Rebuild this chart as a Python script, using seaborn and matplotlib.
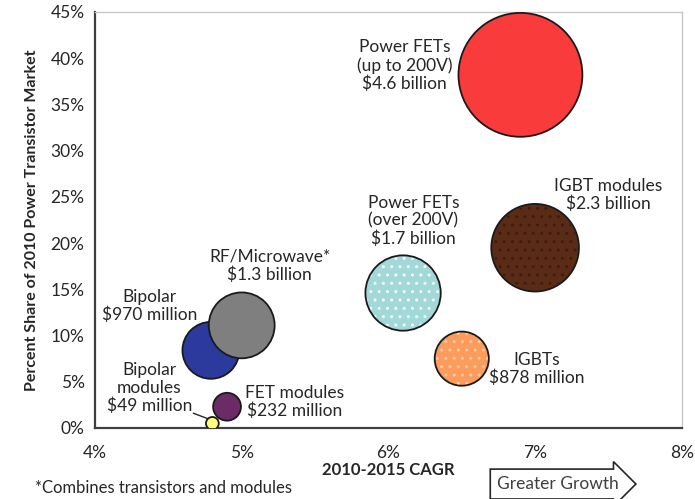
import matplotlib
matplotlib.use("Agg")
import pandas as pd
import seaborn as sns
from matplotlib import pyplot as plt
from matplotlib.ticker import PercentFormatter, MultipleLocator

names = ["Power FETs (up to 200V)", "IGBT modules", "Power FETs (over 200V)", "Bipolar",
         "RF/Microwave", "IGBTs", "FET modules", "Bipolar modules"]
cagr = [6.9, 7.0, 6.1, 4.79, 5.0, 6.5, 4.9, 4.8]
share = [38.2, 19.5, 14.6, 8.4, 11.1, 7.5, 2.3, 0.5]
revenue = [4600, 2300, 1700, 970, 1300, 878, 232, 49]
colors = ["#f93b3b", "#5a2c18", "#a3d8d8", "#2b3a9c", "#7f7f7f", "#fb9c5c", "#6a2b66", "#ffff80"]
labels = ["Power FETs\n(up to 200V)\n$4.6 billion", "IGBT modules\n$2.3 billion",
          "Power FETs\n(over 200V)\n$1.7 billion", "Bipolar\n$970 million",
          "RF/Microwave*\n$1.3 billion", "IGBTs\n$878 million", "FET modules\n$232 million",
          "Bipolar\nmodules\n$49 million"]
label_x = [6.11, 7.50, 6.17, 4.37, 5.19, 7.01, 5.36, 4.37]
label_y = [39.2, 25.2, 22.4, 13.2, 17.5, 6.4, 2.8, 4.3]

sns.set_style("white")
plt.rcParams['font.family'] = ['Lato', 'DejaVu Sans']

df = pd.DataFrame({'name': names, 'cagr': cagr, 'share': share, 'revenue': revenue})
k = 1.73
txt = '#262626'

fig = plt.figure(figsize=(6.95, 4.99), dpi=100)
ax = fig.add_axes([0.1367, 0.1423, 0.8443, 0.8337])

sns.scatterplot(data=df, x='cagr', y='share', hue='name', palette=dict(zip(names, colors)),
                size='revenue', sizes=(k * min(revenue), k * max(revenue)),
                size_norm=(min(revenue), max(revenue)), legend=False,
                edgecolor='#1a1a1a', linewidth=1.3, alpha=1, ax=ax, zorder=3)

# dotted textures
for name, hcol in [("Power FETs (over 200V)", "#f4fbfb"), ("IGBTs", "#fdc9a4"), ("IGBT modules", "#3f1d0e")]:
    i = names.index(name)
    ax.scatter([cagr[i]], [share[i]], s=k * revenue[i] * 0.93, facecolor='none', edgecolor=hcol,
               hatch='..', linewidth=0, zorder=4)

for t, x, y in zip(labels, label_x, label_y):
    ax.text(x, y, t, ha='center', va='center', fontsize=12.5, color=txt, linespacing=1.15)

# leader line for bipolar modules
ax.plot([4.67, 4.77], [1.6, 1.0], color=txt, lw=1)

ax.set_xlim(4, 8)
ax.set_ylim(0, 45)
ax.xaxis.set_major_locator(MultipleLocator(1))
ax.yaxis.set_major_locator(MultipleLocator(5))
ax.xaxis.set_major_formatter(PercentFormatter(decimals=0))
ax.yaxis.set_major_formatter(PercentFormatter(decimals=0))
ax.tick_params(axis='both', labelsize=12.5, colors=txt, direction='out', length=4, width=1)
ax.tick_params(axis='x', pad=8)
for s in ['left', 'bottom']:
    ax.spines[s].set_color('#404040')
    ax.spines[s].set_linewidth(1.6)
for s in ['top', 'right']:
    ax.spines[s].set_color('#c8c8c8')
    ax.spines[s].set_linewidth(1)

ax.set_xlabel("2010-2015 CAGR", fontsize=12, fontweight='bold', color=txt, labelpad=1)
ax.set_ylabel("Percent Share of 2010 Power Transistor Market", fontsize=11.5, fontweight='bold',
              color=txt, labelpad=8)

fig.text(0.05, 0.022, "*Combines transistors and modules", fontsize=12, color=txt, va='center')
fig.text(0.803, 0.03, "Greater Growth", fontsize=12.5, color='#404040', ha='center', va='center',
         bbox=dict(boxstyle='rarrow,pad=0.4', fc='white', ec=txt, lw=1.2))

fig.savefig("out.png", dpi=100)
